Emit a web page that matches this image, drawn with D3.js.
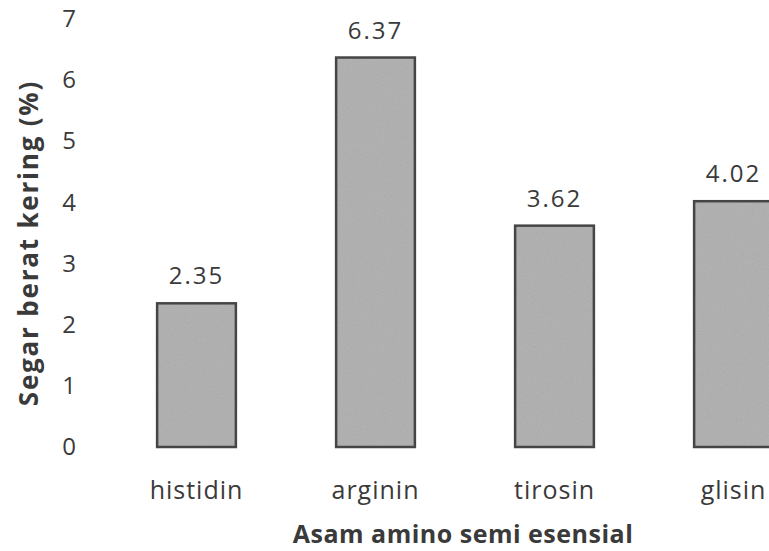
<!DOCTYPE html>
<html>
<head>
    <meta charset="utf-8">
    <title>Asam amino semi esensial</title>
    <script src="https://d3js.org/d3.v7.min.js"></script>
    <style>
        body { margin: 0; background: #fff; }
        text { font-family: "Open Sans", sans-serif; fill: #3a3a3a; }
    </style>
</head>
<body>
<div id="chart"></div>
<script type="text/javascript">

    let categories = ["histidin", "arginin", "tirosin", "glisin"];
    let values = [2.35, 6.37, 3.62, 4.02];
    let valueLabels = ["2.35", "6.37", "3.62", "4.02"];
    let yTicks = [0, 1, 2, 3, 4, 5, 6, 7];

    let w = 769, h = 551;

    let svg = d3.select("#chart")
        .append("svg")
            .attr("width", w)
            .attr("height", h);

    // grainy scan look for the bars
    let defs = svg.append("defs");
    let f = defs.append("filter").attr("id", "grain")
        .attr("x", 0).attr("y", 0).attr("width", 1).attr("height", 1);
    f.append("feTurbulence")
        .attr("type", "fractalNoise")
        .attr("baseFrequency", "0.9")
        .attr("numOctaves", 2)
        .attr("result", "noise");
    f.append("feColorMatrix")
        .attr("in", "noise")
        .attr("type", "matrix")
        .attr("values", "0 0 0 0 0.25  0 0 0 0 0.25  0 0 0 0 0.25  0 0 0 0.35 0")
        .attr("result", "dots");
    f.append("feComposite")
        .attr("in", "dots")
        .attr("in2", "SourceGraphic")
        .attr("operator", "atop");

    // bands run past the right edge, the last bar gets cut like in the scan
    let xScale = d3.scaleBand()
        .domain(categories)
        .range([107, 823])
        .paddingInner(0.56)
        .paddingOuter(0.28);

    let yScale = d3.scaleLinear()
        .domain([0, 7])
        .range([447, 19]);

    let yAxis = d3.axisLeft(yScale)
        .tickValues(yTicks)
        .tickSize(0)
        .tickPadding(0)
        .tickFormat(d3.format("d"));

    let gy = svg.append("g")
        .attr("transform", "translate(77,0)")
        .call(yAxis);
    gy.select(".domain").remove();
    gy.selectAll("text")
        .attr("font-size", 24)
        .attr("letter-spacing", 1)
        .attr("fill", "#3a3a3a")
        .attr("font-family", "Open Sans, sans-serif");

    svg.selectAll("rect.bar")
        .data(values)
        .enter()
        .append("rect")
        .attr("class", "bar")
        .attr("x", (d, i) => xScale(categories[i]))
        .attr("y", d => yScale(d))
        .attr("width", xScale.bandwidth())
        .attr("height", d => yScale(0) - yScale(d))
        .attr("fill", "#b6b6b6")
        .attr("filter", "url(#grain)");

    svg.selectAll("rect.edge")
        .data(values)
        .enter()
        .append("rect")
        .attr("class", "edge")
        .attr("x", (d, i) => xScale(categories[i]))
        .attr("y", d => yScale(d))
        .attr("width", xScale.bandwidth())
        .attr("height", d => yScale(0) - yScale(d))
        .attr("fill", "none")
        .attr("stroke", "#454545")
        .attr("stroke-width", 2.5);

    svg.selectAll("text.val")
        .data(values)
        .enter()
        .append("text")
        .attr("class", "val")
        .attr("x", (d, i) => xScale(categories[i]) + xScale.bandwidth() / 2)
        .attr("y", d => yScale(d) - 19)
        .attr("text-anchor", "middle")
        .attr("font-size", 24)
        .attr("letter-spacing", 2)
        .text((d, i) => valueLabels[i]);

    let xAxis = d3.axisBottom(xScale).tickSize(0).tickPadding(0);
    let gx = svg.append("g")
        .attr("transform", "translate(0,499)")
        .call(xAxis);
    gx.select(".domain").remove();
    gx.selectAll("text")
        .attr("dy", 0)
        .attr("font-size", 25)
        .attr("letter-spacing", 1)
        .attr("fill", "#3a3a3a")
        .attr("font-family", "Open Sans, sans-serif");

    svg.append("text")
        .attr("x", 463)
        .attr("y", 543)
        .attr("text-anchor", "middle")
        .attr("font-size", 25)
        .attr("letter-spacing", 0.5)
        .attr("font-weight", "bold")
        .text("Asam amino semi esensial");

    svg.append("text")
        .attr("transform", "translate(38,243) rotate(-90)")
        .attr("text-anchor", "middle")
        .attr("font-size", 26)
        .attr("letter-spacing", 1.8)
        .attr("font-weight", "bold")
        .text("Segar berat kering (%)");

</script>
</body>
</html>
